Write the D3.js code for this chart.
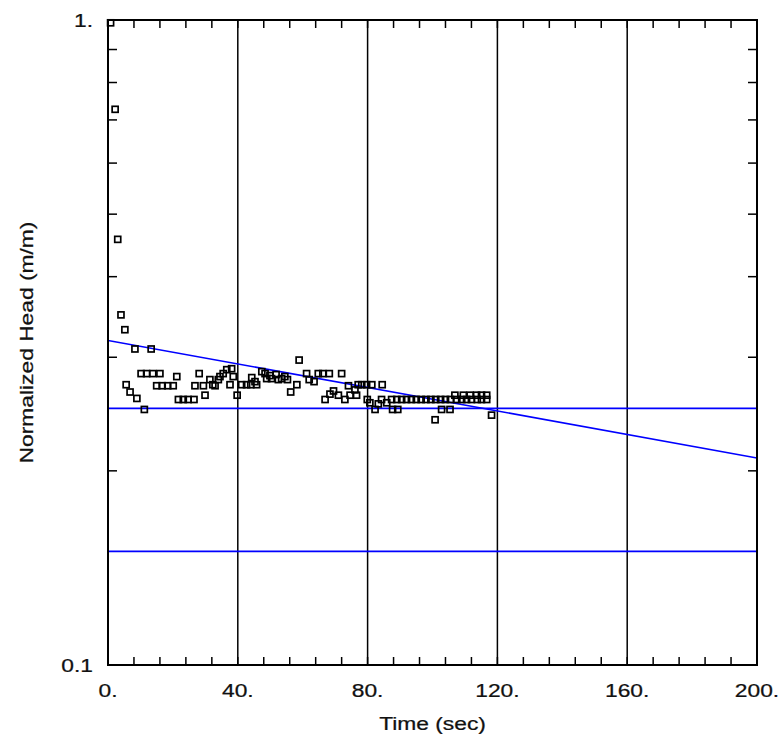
<!DOCTYPE html>
<html><head><meta charset="utf-8">
<script src="https://cdn.jsdelivr.net/npm/d3@7"></script>
<style>body{margin:0;background:#fff}svg{display:block}text{font-family:"Liberation Sans",Arial,sans-serif;fill:#111;stroke:#111;stroke-width:0.25}</style>
</head><body><svg id="c" width="778" height="742"></svg>
<script>
// Observed data: time (sec) and normalized head (m/m)
const times = [0.8,2.2,3.0,4.0,5.2,5.6,6.8,8.3,8.9,10.2,11.2,11.9,13.3,13.8,15.0,16.0,16.7,18.4,20.1,21.2,21.7,23.2,24.7,26.5,26.8,28.1,29.4,29.9,31.4,32.3,33.0,34.0,34.5,35.5,36.6,37.6,38.1,38.6,39.8,41.2,42.7,44.0,44.3,45.3,45.8,47.4,48.4,48.9,49.9,50.4,51.8,52.5,53.5,54.5,55.3,56.3,58.2,58.9,61.2,62.0,63.5,64.8,66.2,66.9,68.2,68.4,69.5,71.0,72.0,73.0,74.1,74.6,76.1,76.6,77.1,78.2,79.7,79.9,80.7,81.3,82.3,83.3,84.3,84.5,85.9,87.4,87.7,89.0,89.3,90.5,92.0,93.5,95.0,96.5,98.0,99.5,100.8,101.0,102.5,102.8,104.0,105.4,105.5,106.9,107.5,109.0,109.5,110.5,111.6,112.0,113.6,113.8,115.1,115.1,116.7,116.7,118.2];
const heads = [0.990,0.727,0.457,0.349,0.331,0.272,0.265,0.309,0.259,0.283,0.249,0.283,0.309,0.283,0.271,0.283,0.271,0.271,0.271,0.280,0.258,0.258,0.258,0.258,0.271,0.283,0.271,0.262,0.277,0.272,0.271,0.277,0.280,0.283,0.287,0.272,0.288,0.280,0.262,0.272,0.272,0.272,0.279,0.275,0.272,0.285,0.283,0.278,0.281,0.278,0.282,0.277,0.278,0.280,0.277,0.265,0.272,0.297,0.283,0.277,0.275,0.283,0.283,0.258,0.283,0.263,0.266,0.262,0.283,0.258,0.271,0.262,0.267,0.262,0.272,0.272,0.272,0.258,0.255,0.272,0.249,0.254,0.258,0.272,0.255,0.258,0.249,0.258,0.249,0.258,0.258,0.258,0.258,0.258,0.258,0.258,0.240,0.258,0.258,0.249,0.258,0.249,0.258,0.262,0.258,0.258,0.262,0.258,0.262,0.258,0.262,0.258,0.258,0.262,0.262,0.258,0.244];
// Fitted straight line (end points) and horizontal reference lines
const fitTimes = [0, 200];
const fitHeads = [0.3185, 0.2094];
const refHeads = [0.25, 0.15];
// Axis ticks
const xLabelTicks = [0, 40, 80, 120, 160, 200];
const xGridTicks = [40, 80, 120, 160];
const xMinorTicks = d3.range(0, 201, 8);
const yMinorTicks = [0.2,0.3,0.4,0.5,0.6,0.7,0.8,0.9];
const yLabelTicks = [0.1, 1];
const yLabelText = ["0.1", "1."];
const xTitle = "Time (sec)";
const yTitle = "Normalized Head (m/m)";

const L = 108, R = 757, T = 20, B = 665;
const SX = 1.2; // horizontal stretch of the text
const svg = d3.select("#c");
const x = d3.scaleLinear().domain([0, 200]).range([L, R]);
const y = d3.scaleLog().domain([0.1, 1]).range([B, T]);

svg.append("rect").attr("width",778).attr("height",742).attr("fill","#fff");

// grid
svg.append("g").selectAll("line").data(xGridTicks).join("line")
  .attr("x1", d=>x(d)).attr("x2", d=>x(d)).attr("y1", T).attr("y2", B)
  .attr("stroke","#000").attr("stroke-width",1.5);

// minor ticks
const tk = svg.append("g").attr("stroke","#000").attr("stroke-width",1.5);
tk.selectAll(".xb").data(xMinorTicks).join("line").attr("x1",d=>x(d)).attr("x2",d=>x(d)).attr("y1",B).attr("y2",B-8);
tk.selectAll(".xt").data(xMinorTicks).join("line").attr("x1",d=>x(d)).attr("x2",d=>x(d)).attr("y1",T).attr("y2",T+8);
tk.selectAll(".yl").data(yMinorTicks).join("line").attr("y1",d=>y(d)).attr("y2",d=>y(d)).attr("x1",L).attr("x2",L+9);
tk.selectAll(".yr").data(yMinorTicks).join("line").attr("y1",d=>y(d)).attr("y2",d=>y(d)).attr("x1",R).attr("x2",R-9);

// clip
svg.append("clipPath").attr("id","cp").append("rect").attr("x",L).attr("y",T).attr("width",R-L).attr("height",B-T);

// reference lines
const lg = svg.append("g").attr("clip-path","url(#cp)");
lg.selectAll(".h").data(refHeads).join("line")
  .attr("x1",L).attr("x2",R).attr("y1",d=>y(d)).attr("y2",d=>y(d))
  .attr("stroke","#0000ff").attr("stroke-width",1.6);
lg.append("path").datum(fitTimes.map((t,i)=>[t,fitHeads[i]]))
  .attr("d", d3.line().x(d=>x(d[0])).y(d=>y(d[1])))
  .attr("stroke","#0000ff").attr("stroke-width",1.6).attr("fill","none");

// points
const pts = times.map((t,i)=>[t,heads[i]]);
svg.append("g").selectAll("rect").data(pts).join("rect")
  .attr("x",d=>x(d[0])-3).attr("y",d=>y(d[1])-3).attr("width",6).attr("height",6)
  .attr("fill","none").attr("stroke","#000").attr("stroke-width",1.7);

// frame
svg.append("rect").attr("x",L).attr("y",T).attr("width",R-L).attr("height",B-T)
  .attr("fill","none").attr("stroke","#000").attr("stroke-width",2);

// labels (slightly stretched horizontally like the reference)
function label(px, py, txt, anchor, rot) {
  svg.append("text")
    .attr("transform", `translate(${px},${py})` + (rot ? " rotate(-90)" : "") + ` scale(${SX},1)`)
    .attr("text-anchor", anchor).attr("font-size", 19).text(txt);
}
xLabelTicks.forEach(d => label(x(d), 697, d + ".", "middle"));
yLabelTicks.forEach((d,i) => label(93, y(d) + 7, yLabelText[i], "end"));
label((L+R)/2, 730, xTitle, "middle");
label(33, (T+B)/2, yTitle, "middle", true);
</script></body></html>
